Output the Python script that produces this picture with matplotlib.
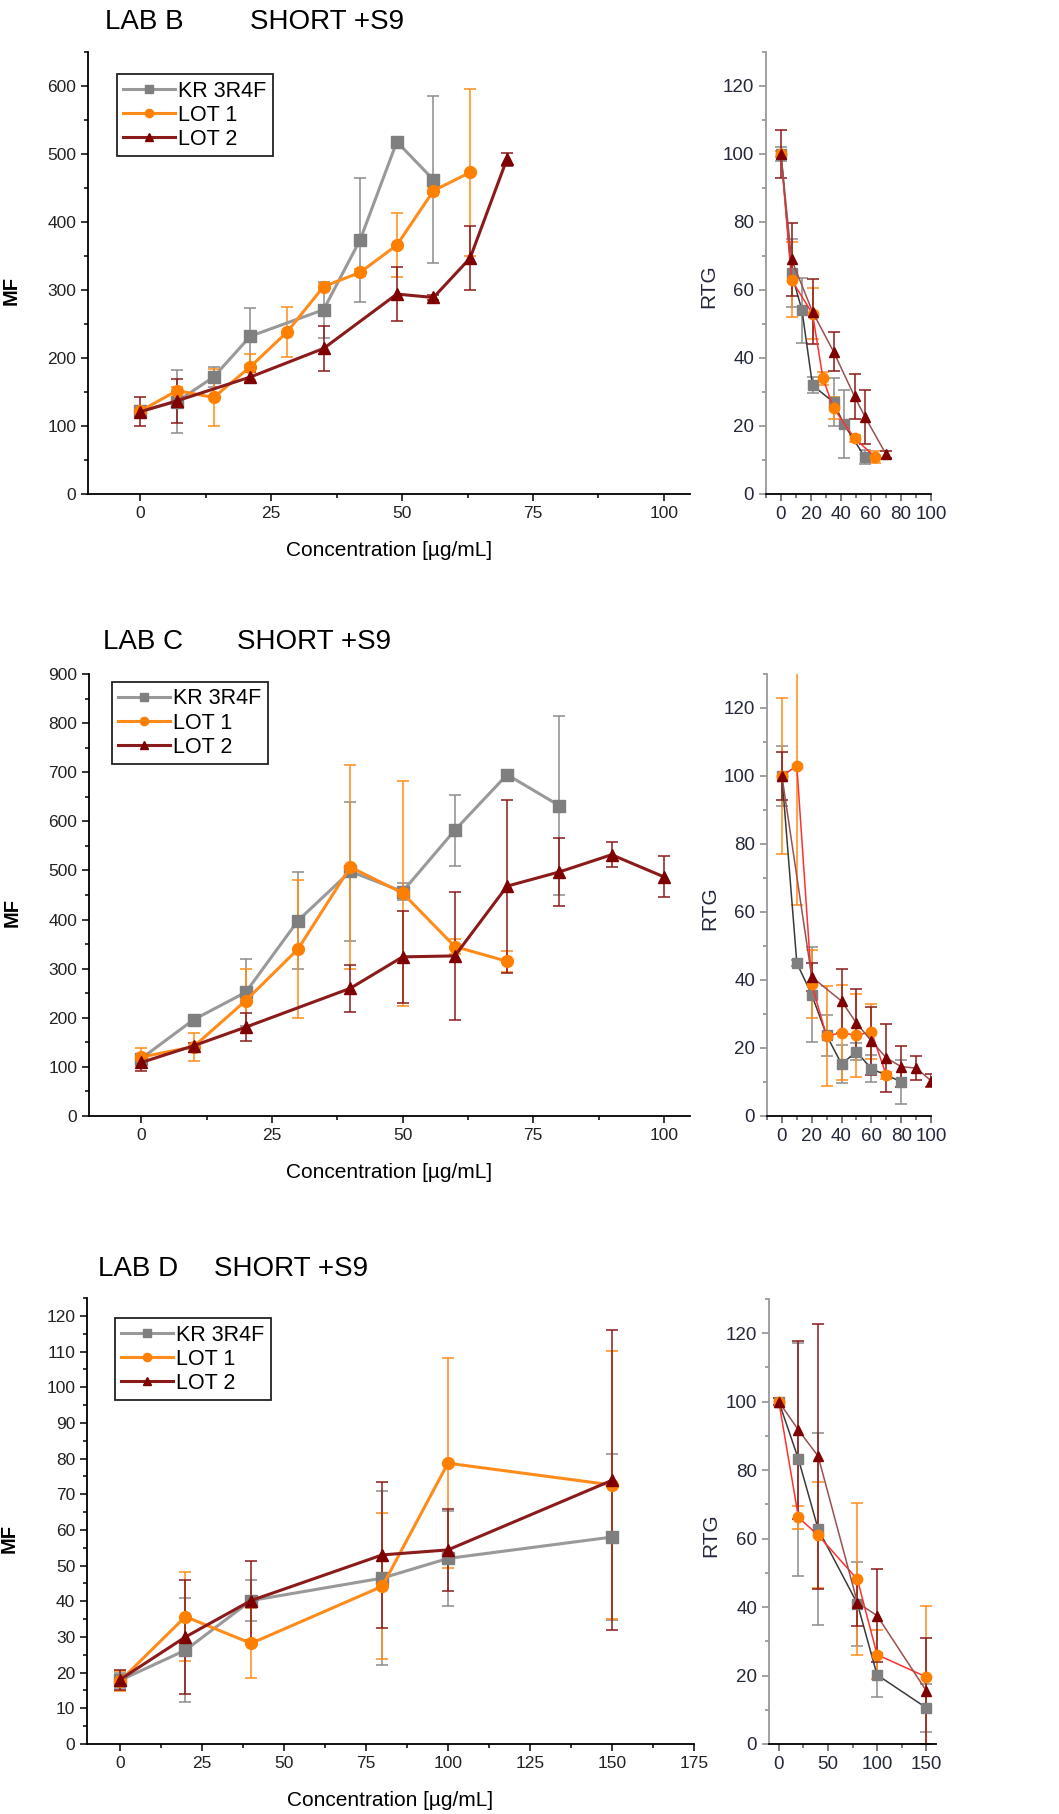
import matplotlib
matplotlib.use("Agg")
import matplotlib.pyplot as plt
from matplotlib.ticker import MultipleLocator

plt.rcParams['font.family'] = ['Liberation Sans', 'DejaVu Sans']

# ---------------- LAB B ----------------
b_kr_x = [0, 7, 14, 21, 35, 42, 49, 56]
b_kr_mf = [122, 136, 172, 232, 271, 374, 518, 462]
b_kr_mf_err = [5, 46, 15, 42, 41, 91, 0, 123]
b_l1_x = [0, 7, 14, 21, 28, 35, 42, 49, 56, 63]
b_l1_mf = [122, 152, 142, 187, 238, 305, 326, 366, 446, 473]
b_l1_mf_err = [5, 5, 42, 19, 37, 5, 5, 47, 5, 123]
b_l2_x = [0, 7, 21, 35, 49, 56, 63, 70]
b_l2_mf = [121, 137, 172, 214, 294, 289, 347, 492]
b_l2_mf_err = [21, 32, 8, 33, 40, 3, 47, 10]

b_kr_rtg_x = [0, 7, 14, 21, 35, 42, 56]
b_kr_rtg = [100, 65, 54, 32, 27, 20.5, 10.8]
b_kr_rtg_err = [2, 10, 9.6, 2.4, 7, 10, 2]
b_l1_rtg_x = [0, 7, 21, 28, 35, 49, 63]
b_l1_rtg = [100, 63, 53, 34, 25.3, 16.4, 10.8]
b_l1_rtg_err = [1, 11, 7.5, 2, 3.3, 1, 1.8]
b_l2_rtg_x = [0, 7, 21, 35, 49, 56, 70]
b_l2_rtg = [100, 69, 53.6, 41.9, 28.7, 22.7, 11.7]
b_l2_rtg_err = [7, 10.7, 9.5, 5.8, 6.7, 8, 1]

# ---------------- LAB C ----------------
c_kr_x = [0, 10, 20, 30, 40, 50, 60, 70, 80]
c_kr_mf = [117, 196, 252, 398, 498, 457, 582, 695, 632]
c_kr_mf_err = [8, 5, 68, 98, 141, 18, 72, 5, 182]
c_l1_x = [0, 10, 20, 30, 40, 50, 60, 70]
c_l1_mf = [120, 141, 235, 340, 507, 454, 345, 315]
c_l1_mf_err = [18, 28, 64, 140, 207, 229, 15, 21]
c_l2_x = [0, 10, 20, 40, 50, 60, 70, 80, 90, 100]
c_l2_mf = [109, 143, 181, 260, 324, 326, 468, 497, 532, 487]
c_l2_mf_err = [18, 5, 29, 48, 94, 130, 176, 69, 25, 42]

c_kr_rtg_x = [0, 10, 20, 30, 40, 50, 60, 80]
c_kr_rtg = [100, 45, 35.7, 23.7, 15.3, 18.9, 13.9, 10.1]
c_kr_rtg_err = [8.7, 1, 14, 6, 5.7, 2.5, 4, 6.5]
c_l1_rtg_x = [0, 10, 20, 30, 40, 50, 60, 70]
c_l1_rtg = [100, 103, 38.7, 23.5, 24.5, 23.7, 24.8, 12]
c_l1_rtg_err = [23, 41, 10, 14.7, 14, 12.2, 8, 1]
c_l2_rtg_x = [0, 20, 40, 50, 60, 70, 80, 90, 100]
c_l2_rtg = [100, 40.9, 33.8, 27.3, 22.1, 17.1, 14.5, 14.1, 10.4]
c_l2_rtg_err = [7, 4, 9.5, 10, 10, 10, 6, 3.5, 2]

# ---------------- LAB D ----------------
d_x = [0, 20, 40, 80, 100, 150]
d_kr_mf = [17.8, 26.3, 40.2, 46.5, 52, 58]
d_kr_mf_err = [2, 14.6, 5.7, 24.4, 13.3, 23.3]
d_l1_mf = [17.6, 35.7, 28.2, 44.2, 78.7, 72.6]
d_l1_mf_err = [2.8, 12.4, 9.8, 20.5, 29.5, 37.5]
d_l2_mf = [18, 30, 40.2, 53, 54.4, 73.9]
d_l2_mf_err = [2.8, 16, 11, 20.4, 11.5, 42]

d_kr_rtg = [100, 83.2, 62.8, 41, 20.2, 10.6]
d_kr_rtg_err = [1, 34, 28, 12.3, 6.5, 7]
d_l1_rtg = [100, 66.2, 61, 48.1, 26.1, 19.6]
d_l1_rtg_err = [1, 3.4, 15.5, 22.2, 7.2, 20.7]
d_l2_rtg = [100, 91.7, 84.1, 41.3, 37.5, 15.6]
d_l2_rtg_err = [1, 26.1, 38.7, 6.7, 13.5, 15.5]

labels = ['KR 3R4F', 'LOT 1', 'LOT 2']
markers = ['s', 'o', '^']
mcols = ['#7f7f7f', '#ff8000', '#7f0000']
mf_lcols = ['#999999', '#ff8c1a', '#8b1a1a']
rtg_lcols = ['#3a3a3a', '#ff3030', '#9a5050']
ecols = ['#8c8c8c', '#ff8c1a', '#8b1a1a']

W, H = 1059, 1814
fig = plt.figure(figsize=(W / 100, H / 100), dpi=100)


def px_axes(x0, y0, x1, y1):
    return fig.add_axes([x0 / W, 1 - y1 / H, (x1 - x0) / W, (y1 - y0) / H])


def style(ax, rtg=False):
    ax.spines['top'].set_visible(False)
    ax.spines['right'].set_visible(False)
    ax.spines['bottom'].set_linewidth(1.3)
    ax.spines['left'].set_linewidth(1.3)
    ax.tick_params(which='both', direction='out')
    ax.tick_params(which='major', length=5, width=1.1)
    ax.tick_params(which='minor', length=2.8, width=1.1)
    if rtg:
        ax.spines['left'].set_color('#999999')
        ax.tick_params(axis='y', which='both', color='#888888')
        ax.tick_params(axis='x', which='both', color='#555555')
        ax.tick_params(labelsize=13.5, labelcolor='#24283a')
    else:
        ax.tick_params(labelsize=12.5, labelcolor='#222222')


def mf_panel(ax, xs, ys, es, xlim, ylim, xmaj, ymaj, ymin, leg_xy):
    for i in range(3):
        ax.errorbar(xs[i], ys[i], yerr=es[i], fmt='none', ecolor=ecols[i],
                    elinewidth=1.1, capsize=4, capthick=1.1, zorder=2)
    for i in range(3):
        ax.plot(xs[i], ys[i], color=mf_lcols[i], lw=2.2, marker=markers[i],
                ms=8.5 if i else 8, mfc=mcols[i], mec=mcols[i],
                label=labels[i], zorder=3 + i)
    ax.set_xlim(*xlim)
    ax.set_ylim(*ylim)
    ax.xaxis.set_major_locator(MultipleLocator(xmaj))
    ax.xaxis.set_minor_locator(MultipleLocator(xmaj / 2))
    ax.yaxis.set_major_locator(MultipleLocator(ymaj))
    ax.yaxis.set_minor_locator(MultipleLocator(ymin))
    style(ax)
    ax.set_ylabel('MF', fontsize=14.5, fontweight='bold')
    ax.yaxis.set_label_coords(-0.112, 0.46)
    ax.set_xlabel('Concentration [µg/mL]', fontsize=15, va='center')
    ax.xaxis.set_label_coords(0.5, -0.127)
    leg = ax.legend(loc='upper left', bbox_to_anchor=leg_xy, borderaxespad=0,
                    fontsize=15.5, fancybox=False, edgecolor='#222222',
                    framealpha=1, handlelength=2.4, handletextpad=0.15,
                    labelspacing=0.15, borderpad=0.3, markerscale=0.7)
    leg.get_frame().set_linewidth(1.3)


def rtg_panel(ax, xs, ys, es, xlim, xmaj, xmin):
    for i in range(3):
        ax.errorbar(xs[i], ys[i], yerr=es[i], fmt='none', ecolor=ecols[i],
                    elinewidth=1.1, capsize=4.5, capthick=1.1, zorder=2)
    for i in range(3):
        ax.plot(xs[i], ys[i], color=rtg_lcols[i], lw=1.1, marker=markers[i],
                ms=7.5, mfc=mcols[i], mec=mcols[i], zorder=3 + i)
    ax.set_xlim(*xlim)
    ax.set_ylim(0, 130)
    ax.xaxis.set_major_locator(MultipleLocator(xmaj))
    ax.xaxis.set_minor_locator(MultipleLocator(xmin))
    ax.yaxis.set_major_locator(MultipleLocator(20))
    ax.yaxis.set_minor_locator(MultipleLocator(10))
    style(ax, rtg=True)
    ax.set_ylabel('RTG', fontsize=15, color='#24283a')
    ax.yaxis.set_label_coords(-0.29, 0.47)


# LAB B
ax = px_axes(88, 52, 690, 494)
mf_panel(ax, [b_kr_x, b_l1_x, b_l2_x], [b_kr_mf, b_l1_mf, b_l2_mf],
         [b_kr_mf_err, b_l1_mf_err, b_l2_mf_err], (-10, 105), (0, 650),
         25, 100, 50, (0.048, 0.95))
ax = px_axes(766, 52, 931, 494)
rtg_panel(ax, [b_kr_rtg_x, b_l1_rtg_x, b_l2_rtg_x], [b_kr_rtg, b_l1_rtg, b_l2_rtg],
          [b_kr_rtg_err, b_l1_rtg_err, b_l2_rtg_err], (-10, 100), 20, 10)

# LAB C
ax = px_axes(89, 674, 690, 1116)
mf_panel(ax, [c_kr_x, c_l1_x, c_l2_x], [c_kr_mf, c_l1_mf, c_l2_mf],
         [c_kr_mf_err, c_l1_mf_err, c_l2_mf_err], (-10, 105), (0, 900),
         25, 100, 50, (0.038, 0.982))
ax = px_axes(767, 674, 931, 1116)
rtg_panel(ax, [c_kr_rtg_x, c_l1_rtg_x, c_l2_rtg_x], [c_kr_rtg, c_l1_rtg, c_l2_rtg],
          [c_kr_rtg_err, c_l1_rtg_err, c_l2_rtg_err], (-10, 100), 20, 10)

# LAB D
ax = px_axes(87, 1298, 694, 1744)
mf_panel(ax, [d_x, d_x, d_x], [d_kr_mf, d_l1_mf, d_l2_mf],
         [d_kr_mf_err, d_l1_mf_err, d_l2_mf_err], (-10, 175), (0, 125),
         25, 10, 5, (0.046, 0.955))
ax = px_axes(769, 1299, 936, 1744)
rtg_panel(ax, [d_x, d_x, d_x], [d_kr_rtg, d_l1_rtg, d_l2_rtg],
          [d_kr_rtg_err, d_l1_rtg_err, d_l2_rtg_err], (-10, 160), 50, 25)

# titles
for lab, xl, xs, yc in [('LAB B', 105, 250, 22), ('LAB C', 103, 237, 642),
                        ('LAB D', 98, 214, 1269)]:
    fig.text(xl / W, 1 - yc / H, lab, fontsize=20, va='center', ha='left')
    fig.text(xs / W, 1 - yc / H, 'SHORT +S9', fontsize=20, va='center', ha='left')

fig.savefig('out.png', dpi=100)
